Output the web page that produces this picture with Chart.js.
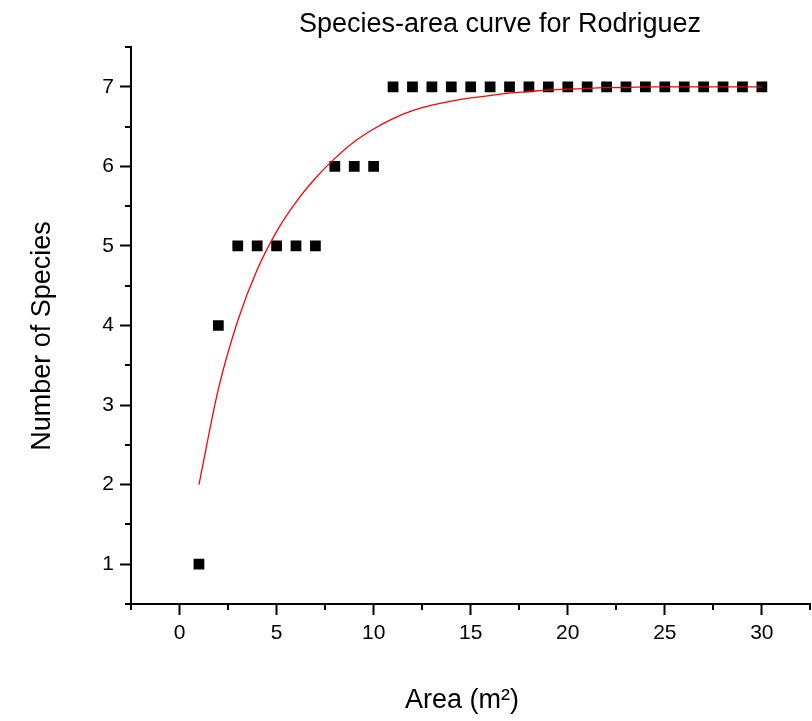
<!DOCTYPE html>
<html>
<head>
<meta charset="utf-8">
<title>Species-area curve for Rodriguez</title>
<script src="https://cdn.jsdelivr.net/npm/chart.js@4"></script>
<style>
  html, body { margin: 0; padding: 0; background: #fff; overflow: hidden; }
  canvas { display: block; }
</style>
</head>
<body>
<canvas id="chart" width="818" height="721"></canvas>
<script>
// quadrat area (m2) and species counted
const areaValues = [1, 2, 3, 4, 5, 6, 7, 8, 9, 10,
                    11, 12, 13, 14, 15, 16, 17, 18, 19, 20,
                    21, 22, 23, 24, 25, 26, 27, 28, 29, 30];
const speciesCounts = [1, 4, 5, 5, 5, 5, 5, 6, 6, 6,
                       7, 7, 7, 7, 7, 7, 7, 7, 7, 7,
                       7, 7, 7, 7, 7, 7, 7, 7, 7, 7];
// fitted curve, sampled at each area
const fitValues = [2.00, 3.20, 4.06, 4.70, 5.18, 5.55, 5.85, 6.10, 6.31, 6.47,
                   6.60, 6.70, 6.77, 6.82, 6.86, 6.89, 6.92, 6.94, 6.96, 6.97,
                   6.98, 6.99, 6.99, 7.00, 7.00, 7.00, 7.00, 7.00, 7.00, 7.00];

const xTicks = [0, 5, 10, 15, 20, 25, 30];
const yTicks = [1, 2, 3, 4, 5, 6, 7];
const xMinorTicks = [-2.5, 2.5, 7.5, 12.5, 17.5, 22.5, 27.5, 32.5];
const yMinorTicks = [0.5, 1.5, 2.5, 3.5, 4.5, 5.5, 6.5, 7.5];

const FONT = "'Liberation Sans', Arial, Helvetica, sans-serif";

const observed = areaValues.map((a, i) => ({ x: a, y: speciesCounts[i] }));
const fitted = areaValues.map((a, i) => ({ x: a, y: fitValues[i] }));

// short ticks halfway between the labelled ones + the three text labels
const decorations = {
  id: 'decorations',
  afterDraw(chart) {
    const ctx = chart.ctx;
    const xs = chart.scales.x, ys = chart.scales.y;
    const area = chart.chartArea;
    ctx.save();
    ctx.strokeStyle = '#000';
    ctx.lineWidth = 2;
    ctx.beginPath();
    xMinorTicks.forEach(v => {
      const px = Math.round(xs.getPixelForValue(v));
      ctx.moveTo(px, area.bottom);
      ctx.lineTo(px, area.bottom + 6);
    });
    yMinorTicks.forEach(v => {
      const py = Math.round(ys.getPixelForValue(v));
      ctx.moveTo(area.left, py);
      ctx.lineTo(area.left - 6, py);
    });
    ctx.stroke();

    ctx.fillStyle = '#000';
    ctx.textBaseline = 'alphabetic';
    ctx.textAlign = 'center';
    ctx.font = '27px ' + FONT;
    ctx.fillText('Species-area curve for Rodriguez', 500, 32);
    ctx.fillText('Area (m\u00B2)', 462, 708);

    ctx.translate(50, 336);
    ctx.rotate(-Math.PI / 2);
    ctx.fillText('Number of Species', 0, 0);
    ctx.restore();
  }
};

new Chart(document.getElementById('chart'), {
  type: 'scatter',
  data: {
    datasets: [
      {
        label: 'fit',
        data: fitted,
        showLine: true,
        borderColor: '#ff0000',
        borderWidth: 1.3,
        pointRadius: 0,
        cubicInterpolationMode: 'monotone',
        fill: false
      },
      {
        label: 'species',
        data: observed,
        pointStyle: 'rect',
        pointRadius: 7.6,
        backgroundColor: '#000',
        borderWidth: 0
      }
    ]
  },
  options: {
    responsive: false,
    animation: false,
    devicePixelRatio: 1,
    layout: { padding: { top: 47, left: 0, right: 0, bottom: 0 } },
    plugins: {
      legend: { display: false },
      tooltip: { enabled: false },
      title: { display: false }
    },
    scales: {
      x: {
        type: 'linear',
        min: -2.5,
        max: 32.5,
        afterBuildTicks: s => { s.ticks = xTicks.map(v => ({ value: v })); },
        afterFit: s => { s.height = 117; },
        border: { display: true, color: '#000', width: 2 },
        grid: { drawOnChartArea: false, drawTicks: true, tickLength: 11, tickWidth: 2, tickColor: '#000' },
        ticks: { color: '#000', font: { family: FONT, size: 21 }, padding: 6, maxRotation: 0 }
      },
      y: {
        type: 'linear',
        min: 0.5,
        max: 7.5,
        afterBuildTicks: s => { s.ticks = yTicks.map(v => ({ value: v })); },
        afterFit: s => { s.width = 131; },
        border: { display: true, color: '#000', width: 2 },
        grid: { drawOnChartArea: false, drawTicks: true, tickLength: 11, tickWidth: 2, tickColor: '#000' },
        ticks: { color: '#000', font: { family: FONT, size: 21 }, padding: 6 }
      }
    }
  },
  plugins: [decorations]
});
</script>
</body>
</html>
